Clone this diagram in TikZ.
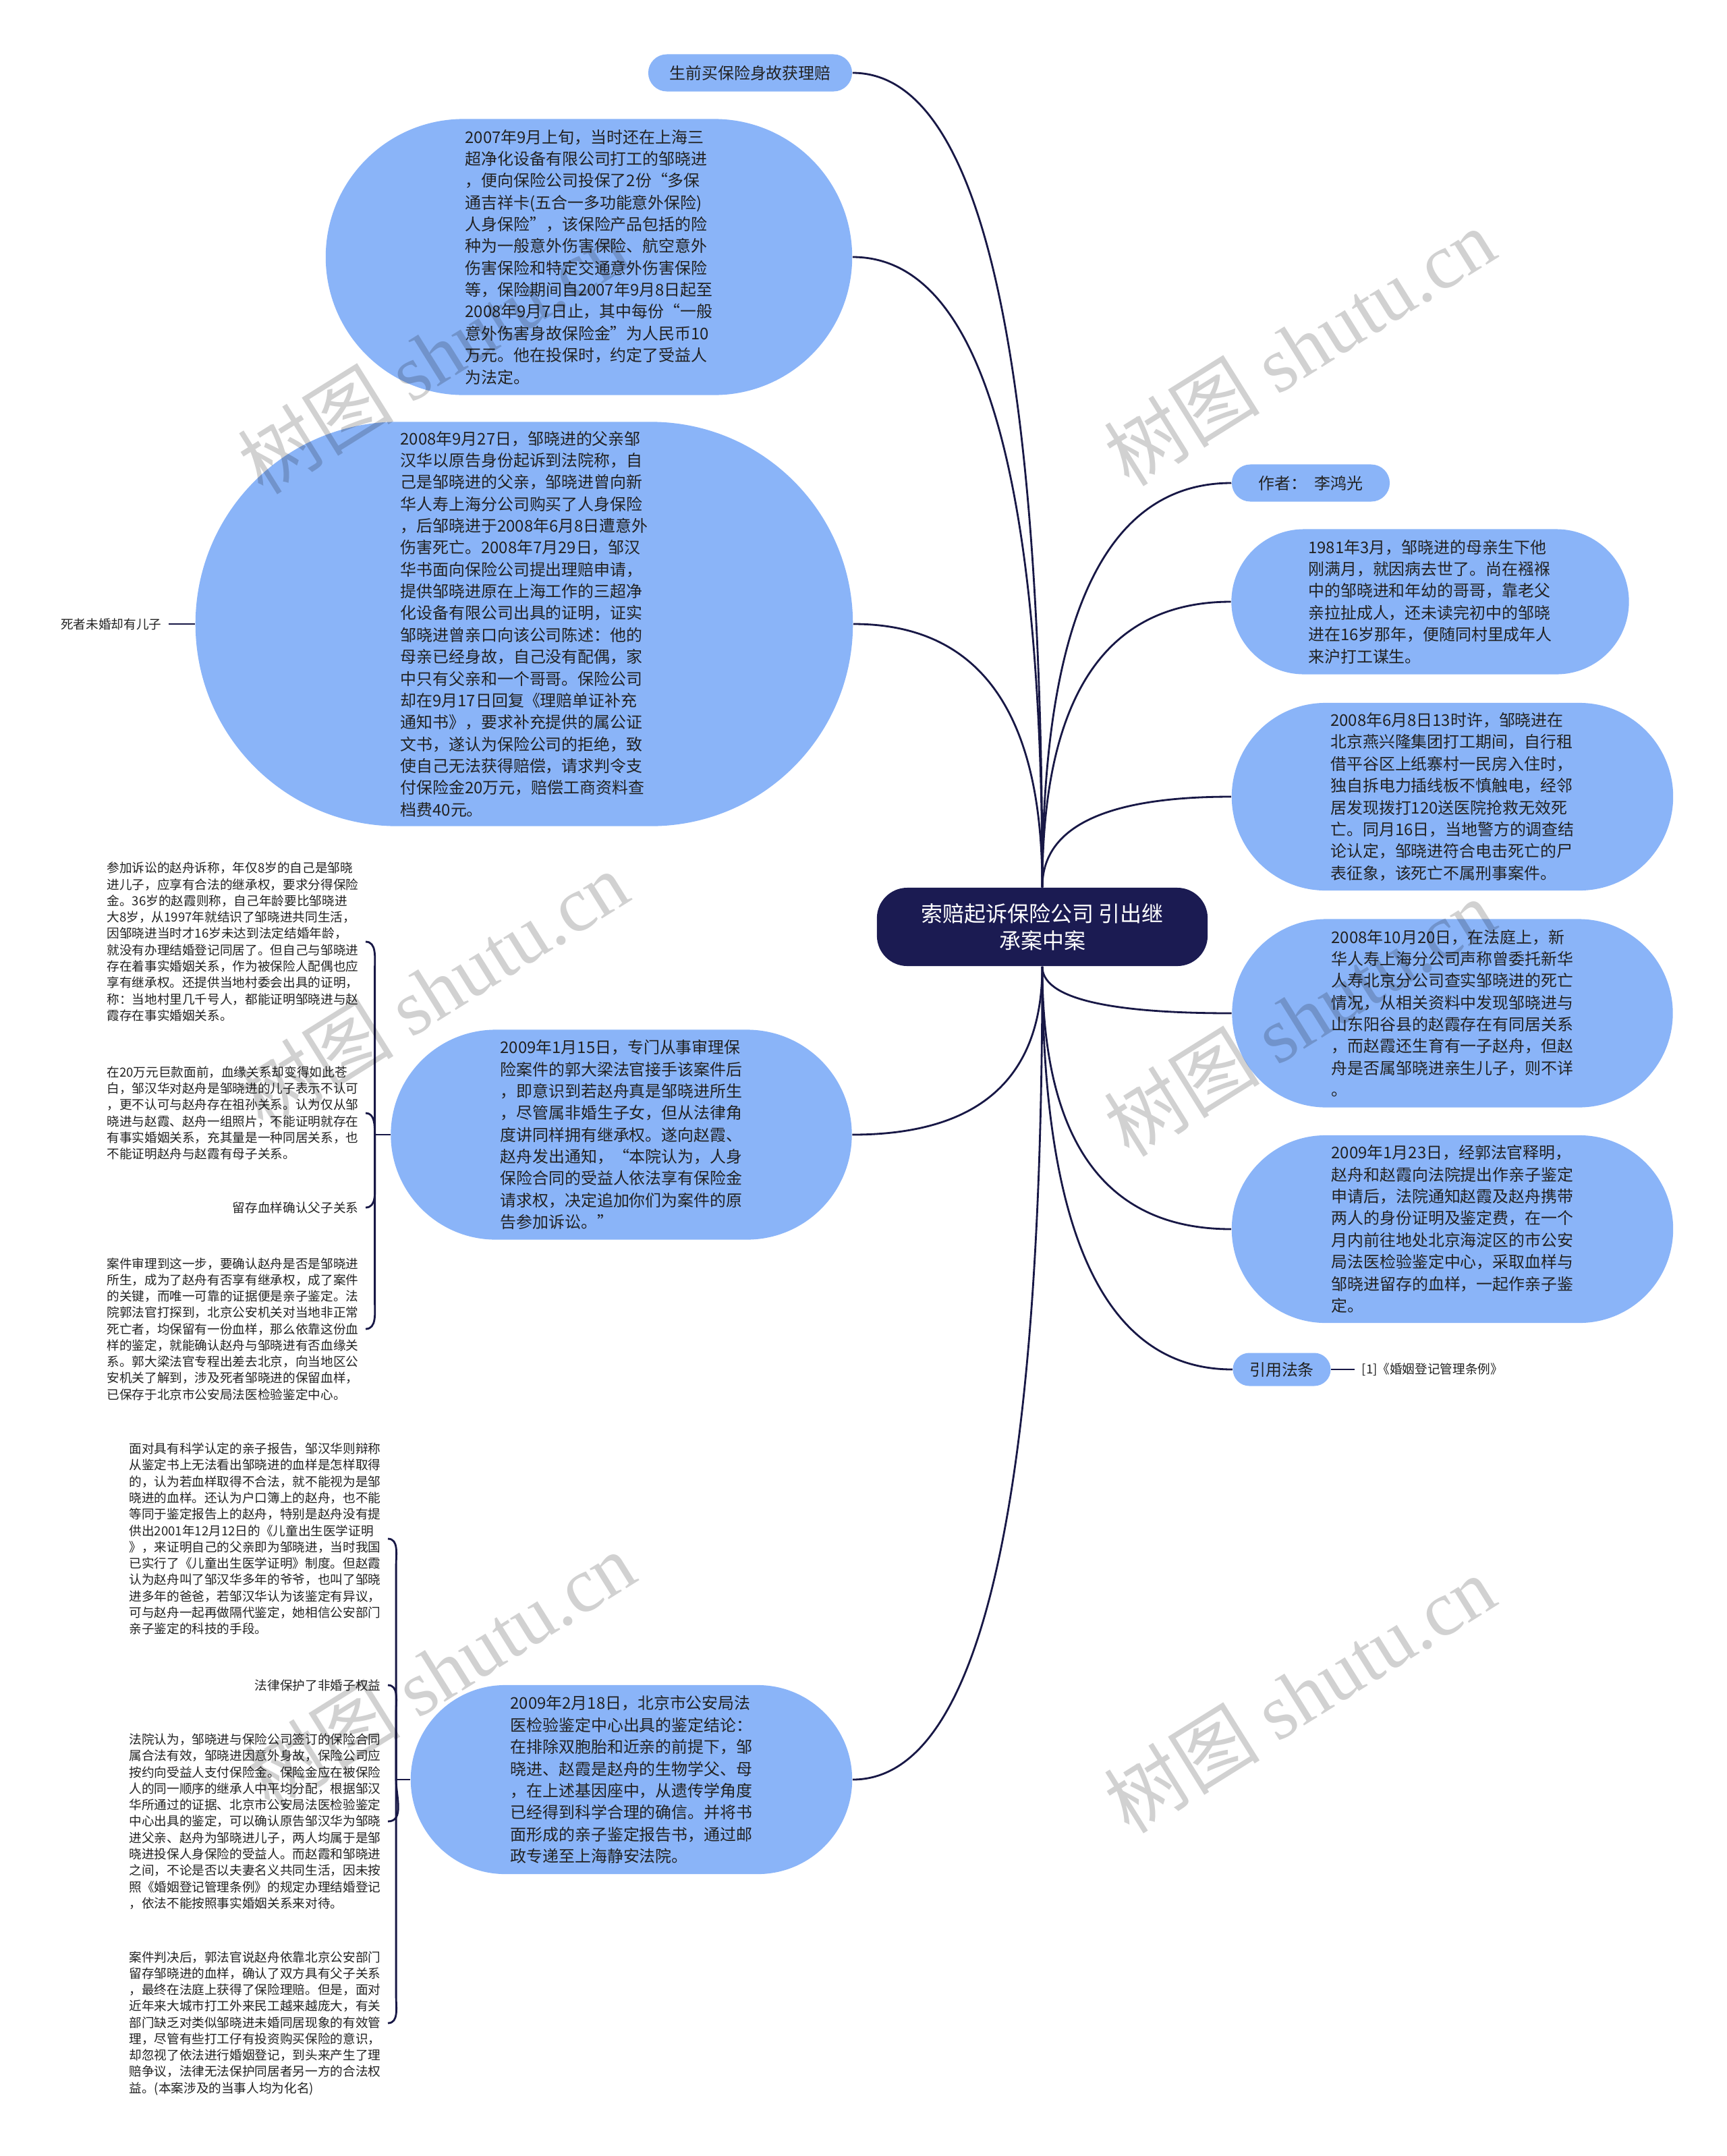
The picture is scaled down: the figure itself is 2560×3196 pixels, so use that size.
\documentclass[tikz,border=0pt]{standalone}
\usepackage{fontspec}
\setmainfont{Noto Sans CJK SC}
\newfontfamily\wmserif{Liberation Serif}
\usepackage{tikz}
\usetikzlibrary{shapes.misc, calc}

\definecolor{topicblue}{RGB}{138,180,248}
\definecolor{rootnavy}{RGB}{27,27,82}
\definecolor{linknavy}{RGB}{24,24,70}
\definecolor{bodytext}{RGB}{34,34,34}

\tikzset{
    topic/.style={rounded rectangle, fill=topicblue, text=bodytext, align=left, inner sep=0pt,
        font=\fontsize{6.8}{9.2}\selectfont},
    note/.style={text=bodytext, align=left, inner sep=0.1cm, font=\fontsize{5.3}{6.9}\selectfont},
    link/.style={draw=linknavy, line width=0.8pt},
    branch/.style={to path={.. controls ($(\tikztostart)!2/3!(\tikztostart |- \tikztotarget)$)
        and ($(\tikztotarget)!2/3!(\tikztostart |- \tikztotarget)$) .. (\tikztotarget)}},
    wmark/.style={rotate=32, text=black, text opacity=0.18, font=\fontsize{33}{33}\selectfont},
}

\begin{document}
\begin{tikzpicture}[x=0.01cm, y=0.01cm]

    % page area
    \path[use as bounding box, fill=white] (0,0) rectangle (2560,-3196);

    % ==========================================
    % CENTRAL TOPIC
    % ==========================================
    \node[rectangle, rounded corners=0.45cm, fill=rootnavy, text=white, align=center,
        minimum width=4.9cm, minimum height=1.16cm, inner sep=0pt,
        font=\fontsize{9.1}{11.4}\selectfont] (root) at (1545,-1374)
        {索赔起诉保险公司 引出继\\承案中案};

    % ==========================================
    % LEFT BRANCHES
    % ==========================================
    \node[topic, minimum width=3.02cm, minimum height=0.55cm] (buyins) at (1112,-108) {生前买保险身故获理赔};

    \node[topic, minimum width=7.8cm, minimum height=4.09cm] (n0709) at (873,-381) {2007年9月上旬，当时还在上海三\\超净化设备有限公司打工的邹晓进\\，便向保险公司投保了2份“多保\\通吉祥卡(五合一多功能意外保险)\\人身保险”，该保险产品包括的险\\种为一般意外伤害保险、航空意外\\伤害保险和特定交通意外伤害保险\\等，保险期间自2007年9月8日起至\\2008年9月7日止，其中每份“一般\\意外伤害身故保险金”为人民币10\\万元。他在投保时，约定了受益人\\为法定。};

    \node[topic, minimum width=9.74cm, minimum height=5.99cm] (n0927) at (777,-925) {2008年9月27日，邹晓进的父亲邹\\汉华以原告身份起诉到法院称，自\\己是邹晓进的父亲，邹晓进曾向新\\华人寿上海分公司购买了人身保险\\，后邹晓进于2008年6月8日遭意外\\伤害死亡。2008年7月29日，邹汉\\华书面向保险公司提出理赔申请，\\提供邹晓进原在上海工作的三超净\\化设备有限公司出具的证明，证实\\邹晓进曾亲口向该公司陈述：他的\\母亲已经身故，自己没有配偶，家\\中只有父亲和一个哥哥。保险公司\\却在9月17日回复《理赔单证补充\\通知书》，要求补充提供的属公证\\文书，遂认为保险公司的拒绝，致\\使自己无法获得赔偿，请求判令支\\付保险金20万元，赔偿工商资料查\\档费40元。};
    \node[note, anchor=east] (noson) at (250,-925) {死者未婚却有儿子};

    \node[topic, minimum width=6.83cm, minimum height=3.11cm] (n0115) at (921,-1682) {2009年1月15日，专门从事审理保\\险案件的郭大梁法官接手该案件后\\，即意识到若赵舟真是邹晓进所生\\，尽管属非婚生子女，但从法律角\\度讲同样拥有继承权。遂向赵霞、\\赵舟发出通知，“本院认为，人身\\保险合同的受益人依法享有保险金\\请求权，决定追加你们为案件的原\\告参加诉讼。”};

    % notes hanging off the 2009-01-15 topic
    \node[note, anchor=east] (claim) at (542,-1396) {参加诉讼的赵舟诉称，年仅8岁的自己是邹晓\\进儿子，应享有合法的继承权，要求分得保险\\金。36岁的赵霞则称，自己年龄要比邹晓进\\大8岁，从1997年就结识了邹晓进共同生活，\\因邹晓进当时才16岁未达到法定结婚年龄，\\就没有办理结婚登记同居了。但自己与邹晓进\\存在着事实婚姻关系，作为被保险人配偶也应\\享有继承权。还提供当地村委会出具的证明，\\称：当地村里几千号人，都能证明邹晓进与赵\\霞存在事实婚姻关系。};
    \node[note, anchor=east] (doubt) at (542,-1650) {在20万元巨款面前，血缘关系却变得如此苍\\白，邹汉华对赵舟是邹晓进的儿子表示不认可\\，更不认可与赵舟存在祖孙关系。认为仅从邹\\晓进与赵霞、赵舟一组照片，不能证明就存在\\有事实婚姻关系，充其量是一种同居关系，也\\不能证明赵舟与赵霞有母子关系。};
    \node[note, anchor=east] (blood) at (542,-1790) {留存血样确认父子关系};
    \node[note, anchor=east] (sample) at (542,-1970) {案件审理到这一步，要确认赵舟是否是邹晓进\\所生，成为了赵舟有否享有继承权，成了案件\\的关键，而唯一可靠的证据便是亲子鉴定。法\\院郭法官打探到，北京公安机关对当地非正常\\死亡者，均保留有一份血样，那么依靠这份血\\样的鉴定，就能确认赵舟与邹晓进有否血缘关\\系。郭大梁法官专程出差去北京，向当地区公\\安机关了解到，涉及死者邹晓进的保留血样，\\已保存于北京市公安局法医检验鉴定中心。};

    \node[topic, minimum width=6.54cm, minimum height=2.8cm] (n0218) at (936,-2638) {2009年2月18日，北京市公安局法\\医检验鉴定中心出具的鉴定结论：\\在排除双胞胎和近亲的前提下，邹\\晓进、赵霞是赵舟的生物学父、母\\，在上述基因座中，从遗传学角度\\已经得到科学合理的确信。并将书\\面形成的亲子鉴定报告书，通过邮\\政专递至上海静安法院。};

    % notes hanging off the 2009-02-18 topic
    \node[note, anchor=east] (rebut) at (575,-2281) {面对具有科学认定的亲子报告，邹汉华则辩称\\从鉴定书上无法看出邹晓进的血样是怎样取得\\的，认为若血样取得不合法，就不能视为是邹\\晓进的血样。还认为户口簿上的赵舟，也不能\\等同于鉴定报告上的赵舟，特别是赵舟没有提\\供出2001年12月12日的《儿童出生医学证明\\》，来证明自己的父亲即为邹晓进，当时我国\\已实行了《儿童出生医学证明》制度。但赵霞\\认为赵舟叫了邹汉华多年的爷爷，也叫了邹晓\\进多年的爸爸，若邹汉华认为该鉴定有异议，\\可与赵舟一起再做隔代鉴定，她相信公安部门\\亲子鉴定的科技的手段。};
    \node[note, anchor=east] (protect) at (575,-2498) {法律保护了非婚子权益};
    \node[note, anchor=east] (ruling) at (575,-2700) {法院认为，邹晓进与保险公司签订的保险合同\\属合法有效，邹晓进因意外身故，保险公司应\\按约向受益人支付保险金。保险金应在被保险\\人的同一顺序的继承人中平均分配，根据邹汉\\华所通过的证据、北京市公安局法医检验鉴定\\中心出具的鉴定，可以确认原告邹汉华为邹晓\\进父亲、赵舟为邹晓进儿子，两人均属于是邹\\晓进投保人身保险的受益人。而赵霞和邹晓进\\之间，不论是否以夫妻名义共同生活，因未按\\照《婚姻登记管理条例》的规定办理结婚登记\\，依法不能按照事实婚姻关系来对待。};
    \node[note, anchor=east] (after) at (575,-2999) {案件判决后，郭法官说赵舟依靠北京公安部门\\留存邹晓进的血样，确认了双方具有父子关系\\，最终在法庭上获得了保险理赔。但是，面对\\近年来大城市打工外来民工越来越庞大，有关\\部门缺乏对类似邹晓进未婚同居现象的有效管\\理，尽管有些打工仔有投资购买保险的意识，\\却忽视了依法进行婚姻登记，到头来产生了理\\赔争议，法律无法保护同居者另一方的合法权\\益。(本案涉及的当事人均为化名)};

    % ==========================================
    % RIGHT BRANCHES
    % ==========================================
    \node[topic, minimum width=2.34cm, minimum height=0.55cm] (author) at (1943,-716) {作者：\ \ 李鸿光};

    \node[topic, minimum width=5.89cm, minimum height=2.15cm] (n1981) at (2120,-892) {1981年3月，邹晓进的母亲生下他\\刚满月，就因病去世了。尚在襁褓\\中的邹晓进和年幼的哥哥，靠老父\\亲拉扯成人，还未读完初中的邹晓\\进在16岁那年，便随同村里成年人\\来沪打工谋生。};

    \node[topic, minimum width=6.54cm, minimum height=2.78cm] (n0608) at (2153,-1181) {2008年6月8日13时许，邹晓进在\\北京燕兴隆集团打工期间，自行租\\借平谷区上纸寨村一民房入住时，\\独自拆电力插线板不慎触电，经邻\\居发现拨打120送医院抢救无效死\\亡。同月16日，当地警方的调查结\\论认定，邹晓进符合电击死亡的尸\\表征象，该死亡不属刑事案件。};

    \node[topic, minimum width=6.53cm, minimum height=2.79cm] (n1020) at (2153,-1502) {2008年10月20日，在法庭上，新\\华人寿上海分公司声称曾委托新华\\人寿北京分公司查实邹晓进的死亡\\情况，从相关资料中发现邹晓进与\\山东阳谷县的赵霞存在有同居关系\\，而赵霞还生育有一子赵舟，但赵\\舟是否属邹晓进亲生儿子，则不详\\。};

    \node[topic, minimum width=6.54cm, minimum height=2.78cm] (n0123) at (2153,-1822) {2009年1月23日，经郭法官释明，\\赵舟和赵霞向法院提出作亲子鉴定\\申请后，法院通知赵霞及赵舟携带\\两人的身份证明及鉴定费，在一个\\月内前往地处北京海淀区的市公安\\局法医检验鉴定中心，采取血样与\\邹晓进留存的血样，一起作亲子鉴\\定。};

    \node[topic, minimum width=1.45cm, minimum height=0.49cm] (law) at (1900,-2030) {引用法条};
    \node[note, anchor=west] (lawref) at (2008,-2030) {[1]《婚姻登记管理条例》};

    % ==========================================
    % CONNECTORS
    % ==========================================
    % from the top of the central topic
    \draw[link] (root.north) to[branch] (buyins.east);
    \draw[link] (root.north) to[branch] (n0709.east);
    \draw[link] (root.north) to[branch] (n0927.east);
    \draw[link] (root.north) to[branch] (author.west);
    \draw[link] (root.north) to[branch] (n1981.west);
    \draw[link] (root.north) to[branch] (n0608.west);

    % from the bottom of the central topic
    \draw[link] (root.south) to[branch] (n0115.east);
    \draw[link] (root.south) to[branch] (n0218.east);
    \draw[link] (root.south) to[branch] (n1020.west);
    \draw[link] (root.south) to[branch] (n0123.west);
    \draw[link] (root.south) to[branch] (law.west);

    % short leaf links
    \draw[link] (n0927.west) -- (noson.east);
    \draw[link] (law.east) -- (lawref.west);

    % bracket of the 2009-01-15 topic
    \draw[link] (n0115.west) -- ++(-23,0) coordinate (forkA);
    \draw[link] (forkA) -- ($(forkA |- claim.east)+(0,-40)$) to[out=90,in=0] (claim.east);
    \draw[link] (forkA) to[out=90,in=0] (doubt.east);
    \draw[link] (forkA) -- ($(forkA |- blood.east)+(0,40)$) to[out=-90,in=0] (blood.east);
    \draw[link] (forkA) -- ($(forkA |- sample.east)+(0,40)$) to[out=-90,in=0] (sample.east);

    % bracket of the 2009-02-18 topic
    \draw[link] (n0218.west) -- ++(-21,0) coordinate (forkB);
    \draw[link] (forkB) -- ($(forkB |- rebut.east)+(0,-40)$) to[out=90,in=0] (rebut.east);
    \draw[link] (forkB) -- ($(forkB |- protect.east)+(0,-40)$) to[out=90,in=0] (protect.east);
    \draw[link] (forkB) to[out=-90,in=0] (ruling.east);
    \draw[link] (forkB) -- ($(forkB |- after.east)+(0,40)$) to[out=-90,in=0] (after.east);

    % ==========================================
    % WATERMARKS
    % ==========================================
    \node[wmark] (wm1) at (642,-526) {树图 {\wmserif shutu.cn}};
    \node[wmark] (wm2) at (1926,-514) {树图 {\wmserif shutu.cn}};
    \node[wmark] (wm3) at (642,-1467) {树图 {\wmserif shutu.cn}};
    \node[wmark] (wm4) at (1926,-1508) {树图 {\wmserif shutu.cn}};
    \node[wmark] (wm5) at (652,-2476) {树图 {\wmserif shutu.cn}};
    \node[wmark] (wm6) at (1926,-2511) {树图 {\wmserif shutu.cn}};

\end{tikzpicture}
\end{document}
